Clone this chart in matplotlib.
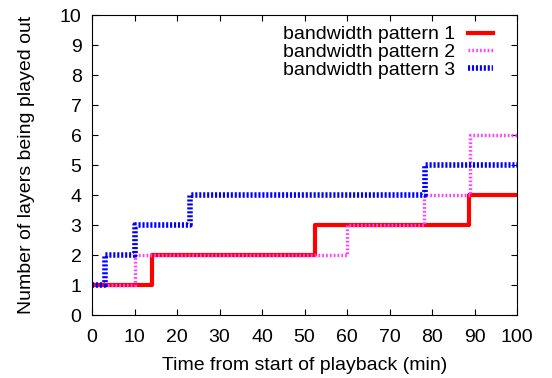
import matplotlib
matplotlib.use("Agg")
import matplotlib.pyplot as plt

# step points: (time in min, layers played out)
t1 = [0, 14, 52.5, 88.7, 100]
l1 = [1, 2, 3, 4, 4]

t2 = [0, 10, 60, 78, 89, 100]
l2 = [1, 2, 3, 4, 6, 6]

t3 = [0, 3, 10, 23, 78.3, 100]
l3 = [1, 2, 3, 4, 5, 5]

plt.rcParams['font.family'] = 'Liberation Sans'
plt.rcParams['font.size'] = 14

fig = plt.figure(figsize=(5.52, 3.78), dpi=100)
ax = fig.add_axes([92/552, 63/378, 425/552, 300/378])

ax.step(t1, l1, where='post', color='#ff0000', lw=3.0, label='bandwidth pattern 1')
ax.step(t2, l2, where='post', color='#ff40ff', lw=2.5, linestyle=(0, (0.5, 0.6)),
        label='bandwidth pattern 2')
ax.step(t3, l3, where='post', color='#0000ff', lw=4.0, linestyle=(0, (0.38, 0.33)),
        label='bandwidth pattern 3')

ax.set_xlim(0, 100)
ax.set_ylim(0, 10)
ax.set_xticks(range(0, 101, 10))
ax.set_yticks(range(0, 11))
ax.tick_params(direction='in', top=True, right=True, length=4, labelsize=14)
ax.tick_params(axis='x', pad=10)
ax.tick_params(axis='y', pad=7.5)
ax.set_xlabel('Time from start of playback (min)', fontsize=14, labelpad=8)
ax.set_ylabel('Number of layers being played out', fontsize=14, labelpad=18)

ax.legend(loc='upper right', bbox_to_anchor=(0.953, 0.977), frameon=False,
          markerfirst=False, fontsize=14, handlelength=1.3, labelspacing=0.0,
          borderaxespad=0.0, borderpad=0.2, handletextpad=0.67)

fig.savefig('out.png', dpi=100)
